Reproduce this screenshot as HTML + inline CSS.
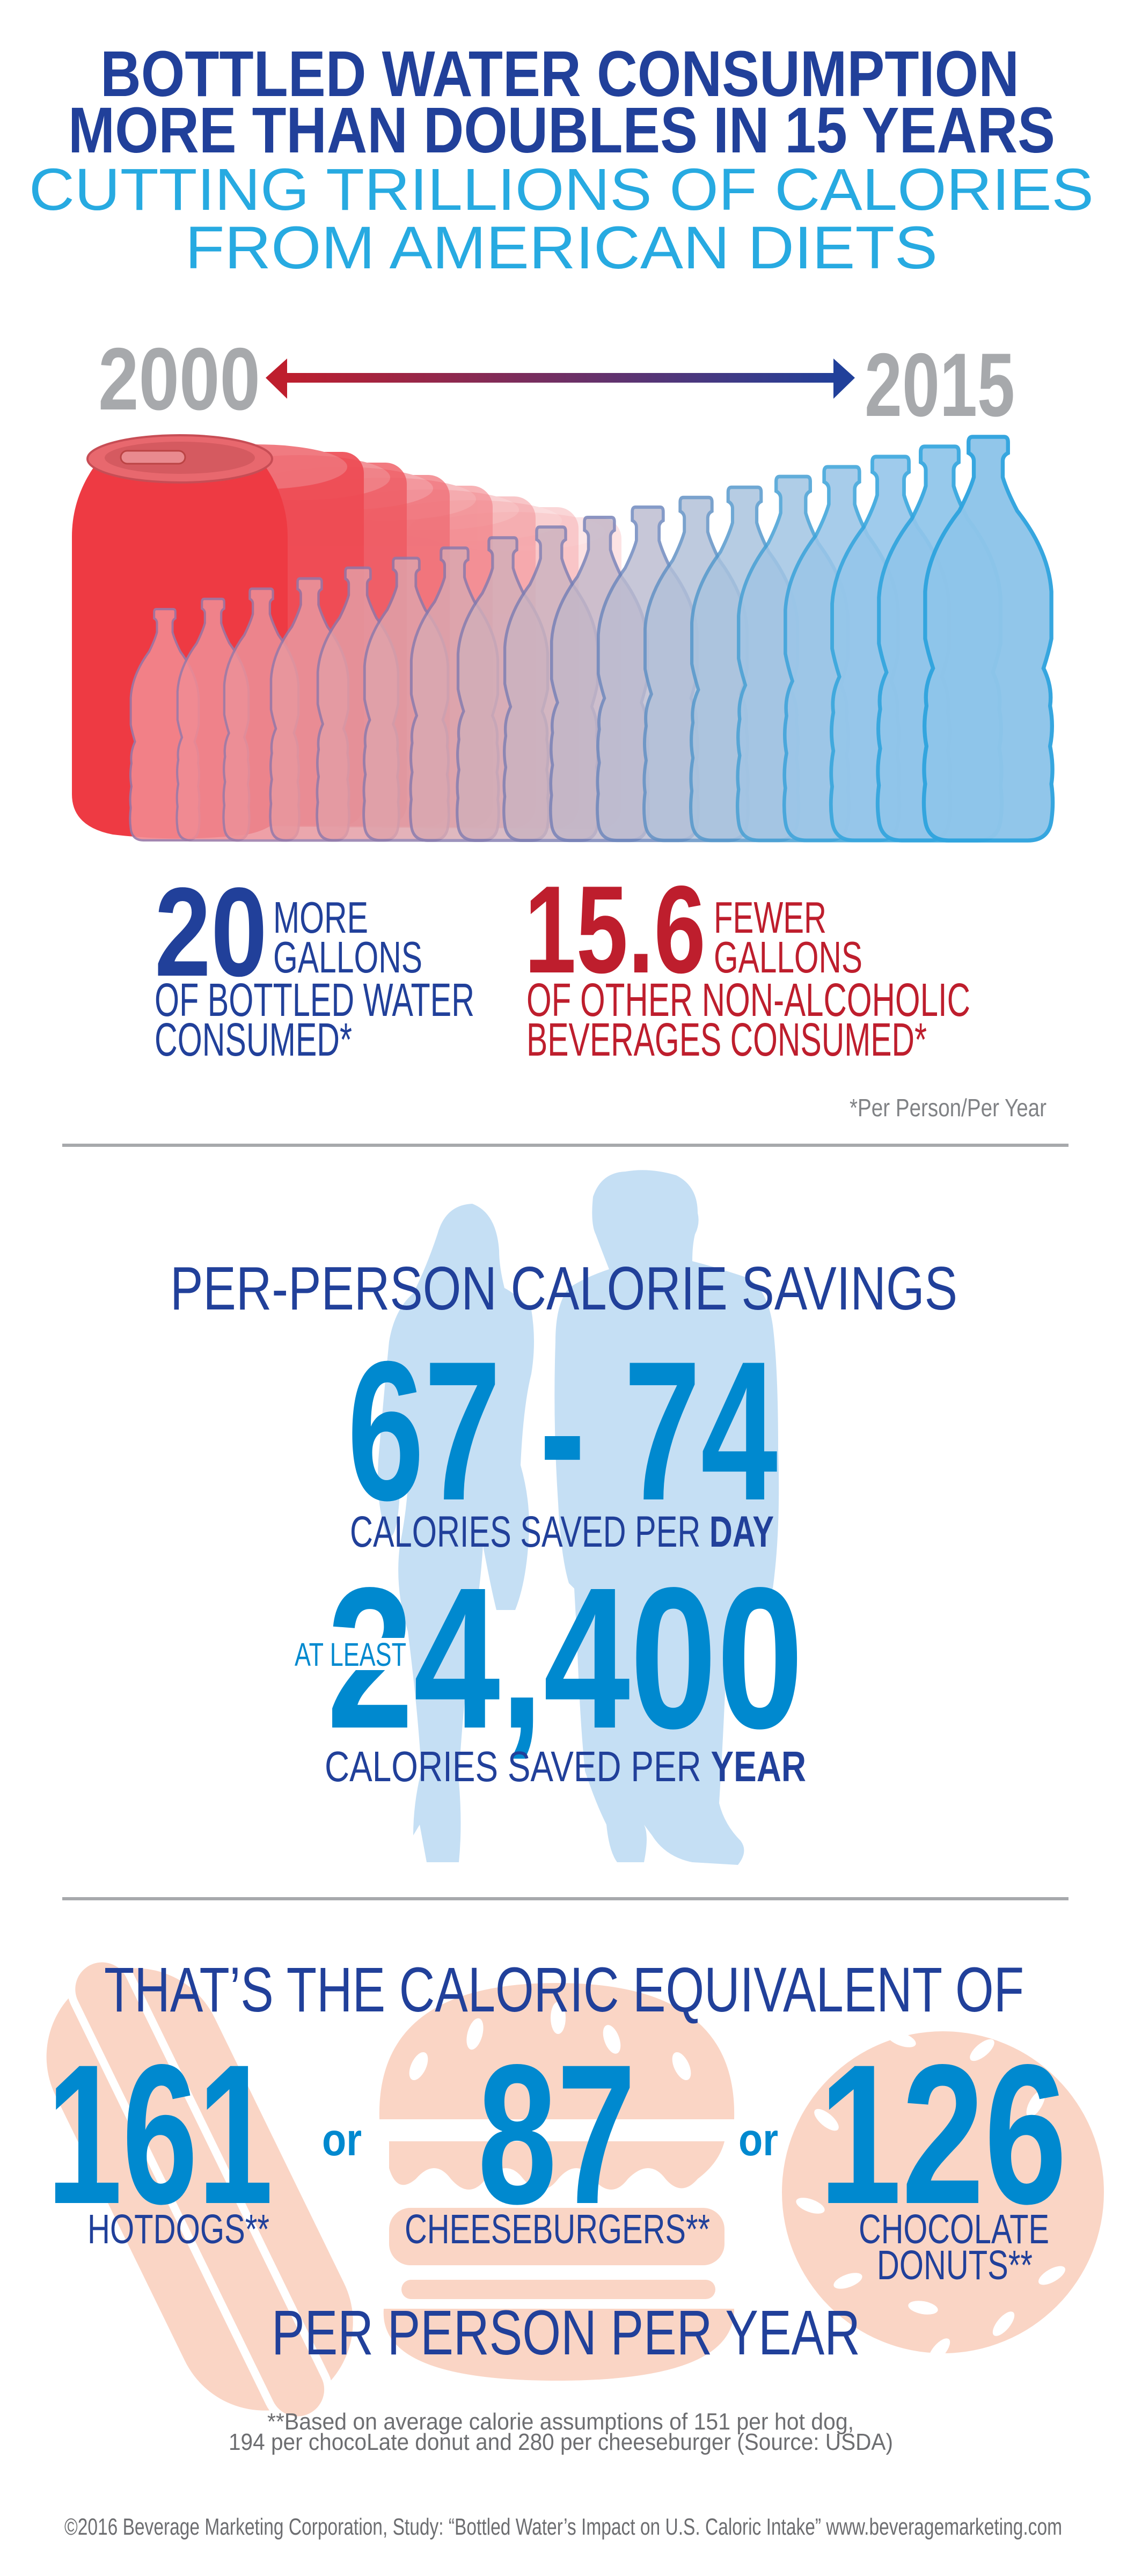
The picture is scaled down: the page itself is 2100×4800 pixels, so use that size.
<!DOCTYPE html>
<html><head><meta charset="utf-8"><style>
html,body{margin:0;padding:0;background:#fff;}
svg{display:block;}
text{font-family:"Liberation Sans",sans-serif;}
</style></head><body>
<svg width="2100" height="4800" viewBox="0 0 2100 4800" xmlns="http://www.w3.org/2000/svg">
<defs>
<linearGradient id="arr" x1="0" x2="1" y1="0" y2="0"><stop offset="0" stop-color="#be1e2d"/><stop offset="1" stop-color="#21409a"/></linearGradient>
<path id="bt" d="M38,0 H62 Q65,0 65,4 V12 Q61,14 61,18 V30 Q64,40 72,55 Q96,85 98,115 V150 Q96,160 92,172 Q99,186 97,200 Q100,215 97,230 Q100,245 98,258 Q100,272 98,285 Q96,300 80,300 H20 Q4,300 2,285 Q0,272 2,258 Q0,245 3,230 Q0,215 3,200 Q1,186 8,172 Q4,160 2,150 V115 Q4,85 28,55 Q36,40 39,30 V18 Q39,14 35,12 V4 Q35,0 38,0 Z"/>
</defs>

<!-- Titles -->
<text x="187" y="179" font-size="121" font-weight="bold" fill="#21409a" textLength="1712" lengthAdjust="spacingAndGlyphs">BOTTLED WATER CONSUMPTION</text>
<text x="127" y="284" font-size="121" font-weight="bold" fill="#21409a" textLength="1839" lengthAdjust="spacingAndGlyphs">MORE THAN DOUBLES IN 15 YEARS</text>
<text x="54" y="391" font-size="110" fill="#27aae1" textLength="1984" lengthAdjust="spacingAndGlyphs">CUTTING TRILLIONS OF CALORIES</text>
<text x="345" y="500" font-size="112" fill="#27aae1" textLength="1402" lengthAdjust="spacingAndGlyphs">FROM AMERICAN DIETS</text>

<!-- years & arrow -->
<text x="183" y="763" font-size="165" font-weight="bold" fill="#a7a9ac" textLength="302" lengthAdjust="spacingAndGlyphs">2000</text>
<text x="1611" y="775" font-size="168" font-weight="bold" fill="#a7a9ac" textLength="280" lengthAdjust="spacingAndGlyphs">2015</text>
<rect x="530" y="695" width="1030" height="18" fill="url(#arr)"/>
<polygon points="495,704 535,668 535,743" fill="#be1e2d"/>
<polygon points="1593,704 1553,668 1553,743" fill="#21409a"/>

<!-- echo cans -->
<g>
<g opacity="0.3"><rect x="756" y="964" width="402" height="580" rx="40" fill="#f6a3a6"/><ellipse cx="957" cy="990" rx="170" ry="36" fill="#f7b3b5"/></g>
<g opacity="0.4"><rect x="676" y="945" width="402" height="598" rx="40" fill="#f59a9e"/><ellipse cx="877" cy="970" rx="170" ry="38" fill="#f6acae"/></g>
<g opacity="0.5"><rect x="596" y="925" width="402" height="617" rx="40" fill="#f38e93"/><ellipse cx="797" cy="950" rx="170" ry="38" fill="#f5a3a6"/></g>
<g opacity="0.6"><rect x="516" y="905" width="402" height="636" rx="40" fill="#f27f85"/><ellipse cx="717" cy="930" rx="170" ry="40" fill="#f39499"/></g>
<g opacity="0.7"><rect x="436" y="885" width="402" height="655" rx="40" fill="#f06a72"/><ellipse cx="637" cy="910" rx="170" ry="40" fill="#f28890"/></g>
<g opacity="0.8"><rect x="356" y="862" width="402" height="677" rx="40" fill="#ef5961"/><ellipse cx="557" cy="890" rx="170" ry="42" fill="#f07a80"/></g>
<g opacity="0.9"><rect x="276" y="842" width="402" height="696" rx="40" fill="#ee4a53"/><ellipse cx="477" cy="870" rx="170" ry="42" fill="#ef6d74"/></g>
<!-- main can -->
<path d="M175,870 Q134,930 134,1000 V1480 Q134,1540 210,1555 Q335,1570 460,1555 Q536,1540 536,1480 V1000 Q536,930 495,870 Z" fill="#ee3a43"/>
<ellipse cx="335" cy="855" rx="172" ry="44" fill="#e8686e" stroke="#c74d55" stroke-width="4"/>
<ellipse cx="335" cy="853" rx="140" ry="30" fill="#d55a60"/>
<rect x="225" y="840" width="120" height="24" rx="12" fill="#e98a8f" stroke="#b44" stroke-width="3"/>
</g>

<!-- bottles -->
<g stroke-width="3">
<use href="#bt" transform="translate(241,1135) scale(1.32,1.436)" fill="#f3888f" stroke="#9a7aa8" opacity="0.9"/>
<use href="#bt" transform="translate(328,1116) scale(1.38,1.5)" fill="#f08c94" stroke="#9a7aa8" opacity="0.88"/>
<use href="#bt" transform="translate(415,1097) scale(1.44,1.564)" fill="#ec9199" stroke="#9a7aa8" opacity="0.86"/>
<use href="#bt" transform="translate(502,1078) scale(1.5,1.627)" fill="#e8989f" stroke="#9479aa" opacity="0.85"/>
<use href="#bt" transform="translate(589,1058) scale(1.56,1.693)" fill="#e49da5" stroke="#9079aa" opacity="0.84"/>
<use href="#bt" transform="translate(676,1040) scale(1.62,1.753)" fill="#dfa3ab" stroke="#8c7aac" opacity="0.83"/>
<use href="#bt" transform="translate(763,1021) scale(1.68,1.817)" fill="#d9a9b2" stroke="#877bae" opacity="0.82"/>
<use href="#bt" transform="translate(850,1002) scale(1.74,1.88)" fill="#d2aeb9" stroke="#827cb0" opacity="0.82"/>
<use href="#bt" transform="translate(937,982) scale(1.8,1.947)" fill="#cbb3c0" stroke="#7c7eb3" opacity="0.82"/>
<use href="#bt" transform="translate(1024,964) scale(1.86,2.007)" fill="#c3b7c8" stroke="#7480b7" opacity="0.82"/>
<use href="#bt" transform="translate(1111,945) scale(1.92,2.07)" fill="#bbbbd0" stroke="#6b86bc" opacity="0.82"/>
<use href="#bt" transform="translate(1198,927) scale(1.98,2.13)" fill="#b2c0d8" stroke="#6090c4" opacity="0.83"/>
<use href="#bt" transform="translate(1285,908) scale(2.05,2.193)" fill="#a9c3de" stroke="#5498cc" opacity="0.84"/>
<use href="#bt" transform="translate(1372,888) scale(2.12,2.26)" fill="#a2c5e4" stroke="#48a0d4" opacity="0.86"/>
<use href="#bt" transform="translate(1459,870) scale(2.19,2.32)" fill="#9bc6e8" stroke="#3ea4da" opacity="0.88"/>
<use href="#bt" transform="translate(1546,851) scale(2.27,2.383)" fill="#95c6ea" stroke="#38a6dd" opacity="0.9"/>
<use href="#bt" transform="translate(1633,832) scale(2.36,2.447)" fill="#90c5ea" stroke="#33a5de" opacity="0.93"/>
<use href="#bt" transform="translate(1719,814) scale(2.45,2.507)" fill="#8ec5ea" stroke="#30a4de" opacity="0.97"/>
</g>

<!-- gallons -->
<text x="288" y="1818" font-size="236" font-weight="bold" fill="#21409a" textLength="210" lengthAdjust="spacingAndGlyphs">20</text>
<text x="509" y="1738" font-size="83" fill="#21409a" textLength="177" lengthAdjust="spacingAndGlyphs">MORE</text>
<text x="509" y="1812" font-size="83" fill="#21409a" textLength="278" lengthAdjust="spacingAndGlyphs">GALLONS</text>
<text x="288" y="1893" font-size="87" fill="#21409a" textLength="596" lengthAdjust="spacingAndGlyphs">OF BOTTLED WATER</text>
<text x="288" y="1967" font-size="87" fill="#21409a" textLength="368" lengthAdjust="spacingAndGlyphs">CONSUMED*</text>
<text x="977" y="1812" font-size="232" font-weight="bold" fill="#be1e2d" textLength="338" lengthAdjust="spacingAndGlyphs">15.6</text>
<text x="1330" y="1738" font-size="83" fill="#be1e2d" textLength="210" lengthAdjust="spacingAndGlyphs">FEWER</text>
<text x="1330" y="1812" font-size="83" fill="#be1e2d" textLength="277" lengthAdjust="spacingAndGlyphs">GALLONS</text>
<text x="981" y="1893" font-size="87" fill="#be1e2d" textLength="827" lengthAdjust="spacingAndGlyphs">OF OTHER NON-ALCOHOLIC</text>
<text x="981" y="1967" font-size="87" fill="#be1e2d" textLength="746" lengthAdjust="spacingAndGlyphs">BEVERAGES CONSUMED*</text>
<text x="1583" y="2080" font-size="46" fill="#808285" textLength="367" lengthAdjust="spacingAndGlyphs">*Per Person/Per Year</text>
<rect x="116" y="2131" width="1875" height="6" fill="#a7a9ac"/>

<!-- silhouettes -->
<g fill="#c5dff4">
<path d="M880,2243 Q830,2245 815,2300 Q795,2360 770,2410 Q735,2440 725,2500 Q715,2600 705,2720 Q700,2800 720,2860 Q740,2880 745,2780 L760,2700 Q765,2780 745,2880 Q735,2960 760,3040 Q780,3200 785,3300 Q770,3360 770,3420 L782,3400 L795,3470 L855,3470 Q862,3400 855,3320 Q860,3200 880,3050 Q895,2960 900,2880 Q915,2960 925,3000 L960,3000 Q980,2950 985,2870 Q990,2800 970,2730 Q975,2620 990,2560 Q1000,2500 990,2440 Q960,2410 940,2400 Q930,2360 930,2330 Q925,2260 880,2243 Z"/>
<path d="M1165,2183 Q1120,2185 1105,2230 Q1100,2280 1110,2300 Q1125,2340 1135,2365 Q1090,2380 1060,2400 Q1035,2430 1035,2500 Q1030,2650 1040,2800 Q1045,2900 1060,2950 L1070,2960 L1075,3050 Q1080,3200 1090,3300 Q1110,3360 1130,3400 Q1135,3450 1150,3470 L1200,3470 Q1210,3420 1200,3400 L1215,3420 Q1240,3460 1290,3470 L1375,3475 Q1395,3450 1380,3430 Q1350,3400 1340,3360 Q1350,3200 1355,3050 Q1380,2980 1440,2960 Q1455,2850 1450,2700 Q1450,2550 1440,2470 Q1430,2400 1390,2380 Q1330,2360 1290,2350 Q1290,2320 1295,2300 Q1305,2280 1300,2260 Q1300,2210 1260,2190 Q1210,2175 1165,2183 Z"/>
</g>

<!-- calorie savings -->
<text x="317" y="2440" font-size="114" fill="#21409a" textLength="1467" lengthAdjust="spacingAndGlyphs">PER-PERSON CALORIE SAVINGS</text>
<text x="647" y="2794" font-size="370" font-weight="bold" fill="#0089cf" textLength="802" lengthAdjust="spacingAndGlyphs">67 - 74</text>
<text x="652" y="2882" font-size="82" fill="#21409a" textLength="790" lengthAdjust="spacingAndGlyphs">CALORIES SAVED PER <tspan font-weight="bold">DAY</tspan></text>
<text x="609" y="3219" font-size="375" font-weight="bold" fill="#0089cf" textLength="888" lengthAdjust="spacingAndGlyphs">24,400</text>
<rect x="545" y="3052" width="215" height="60" fill="#fff"/>
<text x="549" y="3104" font-size="61" fill="#0089cf" textLength="208" lengthAdjust="spacingAndGlyphs">AT LEAST</text>
<text x="605" y="3319" font-size="80" fill="#21409a" textLength="897" lengthAdjust="spacingAndGlyphs">CALORIES SAVED PER <tspan font-weight="bold">YEAR</tspan></text>
<rect x="116" y="3535" width="1875" height="6" fill="#a7a9ac"/>

<!-- food shapes -->
<g fill="#fad5c5">
<g transform="rotate(-26 370 4075)">
<rect x="205" y="3640" width="330" height="880" rx="165"/>
<rect x="305" y="3600" width="130" height="960" rx="65" fill="#fff"/>
<rect x="320" y="3615" width="100" height="930" rx="50"/>
</g>
<path d="M707,3949 Q700,3695 1037,3695 Q1375,3695 1368,3949 Z"/>
<path d="M725,3990 H1350 Q1340,4030 1300,4060 Q1270,4095 1240,4060 Q1210,4020 1170,4060 Q1140,4100 1105,4060 Q1075,4020 1040,4060 Q1010,4100 975,4060 Q945,4020 905,4060 Q875,4100 840,4060 Q810,4020 775,4060 Q740,4090 725,4040 Z"/>
<rect x="725" y="4114" width="625" height="107" rx="40"/>
<rect x="748" y="4248" width="585" height="36" rx="18"/>
<path d="M715,4302 H1368 Q1370,4436 1037,4436 Q705,4436 715,4302 Z"/>
<circle cx="1757" cy="4085" r="300"/>
</g>
<g fill="#fff">
<ellipse cx="885" cy="3790" rx="14" ry="30" transform="rotate(15 885 3790)"/>
<ellipse cx="1040" cy="3760" rx="14" ry="30"/>
<ellipse cx="1140" cy="3800" rx="14" ry="28" transform="rotate(-20 1140 3800)"/>
<ellipse cx="780" cy="3850" rx="14" ry="28" transform="rotate(25 780 3850)"/>
<ellipse cx="1270" cy="3850" rx="14" ry="28" transform="rotate(-25 1270 3850)"/>
<ellipse cx="1680" cy="3800" rx="28" ry="12" transform="rotate(20 1680 3800)"/>
<ellipse cx="1830" cy="3820" rx="28" ry="12" transform="rotate(-40 1830 3820)"/>
<ellipse cx="1930" cy="3920" rx="28" ry="12" transform="rotate(-60 1930 3920)"/>
<ellipse cx="1540" cy="3950" rx="28" ry="12" transform="rotate(40 1540 3950)"/>
<ellipse cx="1510" cy="4110" rx="28" ry="12" transform="rotate(20 1510 4110)"/>
<ellipse cx="1580" cy="4250" rx="28" ry="12" transform="rotate(-20 1580 4250)"/>
<ellipse cx="1720" cy="4300" rx="28" ry="12" transform="rotate(10 1720 4300)"/>
<ellipse cx="1870" cy="4330" rx="28" ry="12" transform="rotate(-50 1870 4330)"/>
<ellipse cx="1960" cy="4240" rx="28" ry="12" transform="rotate(-30 1960 4240)"/>
<ellipse cx="1750" cy="4380" rx="28" ry="12" transform="rotate(-50 1750 4380)"/>
</g>

<!-- caloric equivalent -->
<text x="194" y="3748" font-size="118" fill="#21409a" textLength="1714" lengthAdjust="spacingAndGlyphs">THAT’S THE CALORIC EQUIVALENT OF</text>
<text x="87" y="4105" font-size="371" font-weight="bold" fill="#0089cf" textLength="422" lengthAdjust="spacingAndGlyphs">161</text>
<text x="600" y="4016" font-size="85" font-weight="bold" fill="#0089cf" textLength="74" lengthAdjust="spacingAndGlyphs">or</text>
<text x="890" y="4105" font-size="371" font-weight="bold" fill="#0089cf" textLength="295" lengthAdjust="spacingAndGlyphs">87</text>
<text x="1376" y="4016" font-size="85" font-weight="bold" fill="#0089cf" textLength="74" lengthAdjust="spacingAndGlyphs">or</text>
<text x="1526" y="4105" font-size="371" font-weight="bold" fill="#0089cf" textLength="462" lengthAdjust="spacingAndGlyphs">126</text>
<text x="163" y="4180" font-size="77" fill="#21409a" textLength="339" lengthAdjust="spacingAndGlyphs">HOTDOGS**</text>
<text x="754" y="4180" font-size="77" fill="#21409a" textLength="569" lengthAdjust="spacingAndGlyphs">CHEESEBURGERS**</text>
<text x="1600" y="4180" font-size="77" fill="#21409a" textLength="355" lengthAdjust="spacingAndGlyphs">CHOCOLATE</text>
<text x="1634" y="4247" font-size="77" fill="#21409a" textLength="290" lengthAdjust="spacingAndGlyphs">DONUTS**</text>
<text x="506" y="4387" font-size="118" fill="#21409a" textLength="1097" lengthAdjust="spacingAndGlyphs">PER PERSON PER YEAR</text>

<text x="498" y="4527" font-size="44" fill="#6d6e71" textLength="1093" lengthAdjust="spacingAndGlyphs">**Based on average calorie assumptions of 151 per hot dog,</text>
<text x="426" y="4565" font-size="44" fill="#6d6e71" textLength="1238" lengthAdjust="spacingAndGlyphs">194 per chocoLate donut and 280 per cheeseburger (Source: USDA)</text>
<text x="120" y="4723" font-size="44" fill="#6d6e71" textLength="1859" lengthAdjust="spacingAndGlyphs">©2016 Beverage Marketing Corporation, Study: “Bottled Water’s Impact on U.S. Caloric Intake”    www.beveragemarketing.com</text>
</svg>
</body></html>
